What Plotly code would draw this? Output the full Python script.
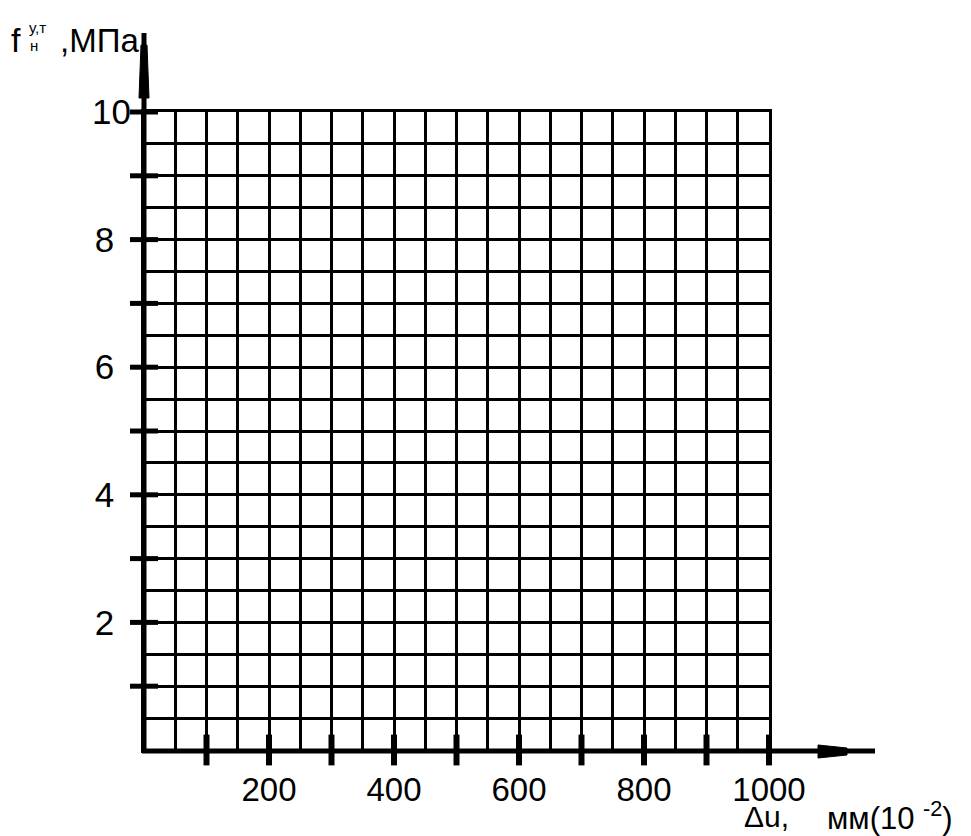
import plotly.graph_objects as go

# axis values
x_tick_labels = [200, 400, 600, 800, 1000]
y_tick_labels = [2, 4, 6, 8, 10]
x_major_ticks = [100, 200, 300, 400, 500, 600, 700, 800, 900, 1000]
y_major_ticks = [1, 2, 3, 4, 5, 6, 7, 8, 9, 10]
x_range = [0, 1000]
y_range = [0, 10]
x_grid_step = 50
y_grid_step = 0.5

OFF = 8  # page body margin
W, H = 971 - OFF, 836 - OFF
# plot area in page pixels
L, R, T, B = 144, 769, 112, 750

def px(x):
    return (x - L) / (R - L)

def py(y):
    return (B - y) / (B - T)

FONT = "Liberation Sans"

fig = go.Figure()

# thick tick marks crossing the axes
fig.add_trace(go.Scatter(
    x=x_major_ticks, y=[0] * len(x_major_ticks), mode="markers",
    marker=dict(symbol="line-ns", size=22, line=dict(width=6, color="black")),
    cliponaxis=False, hoverinfo="skip", showlegend=False))
fig.add_trace(go.Scatter(
    x=[0] * len(y_major_ticks), y=y_major_ticks, mode="markers",
    marker=dict(symbol="line-ew", size=20, line=dict(width=5, color="black")),
    cliponaxis=False, hoverinfo="skip", showlegend=False))

# y labels are left-aligned in the reference: pad single digits on the right
y_ticktext = [str(v) + ("" if len(str(v)) > 1 else "\u00a0\u2009") for v in y_tick_labels]

fig.update_xaxes(
    range=x_range, tickmode="array", tickvals=x_tick_labels,
    ticktext=[str(v) for v in x_tick_labels], ticks="",
    showgrid=True, gridcolor="black", gridwidth=3,
    minor=dict(tickmode="linear", tick0=0, dtick=x_grid_step, showgrid=True,
               gridcolor="black", gridwidth=3, ticks=""),
    showline=True, mirror=True, linecolor="black", linewidth=3,
    zeroline=False, ticklabelstandoff=8,
    tickfont=dict(family=FONT, size=33, color="black"))
fig.update_yaxes(
    range=y_range, tickmode="array", tickvals=y_tick_labels,
    ticktext=y_ticktext, ticks="",
    showgrid=True, gridcolor="black", gridwidth=3,
    minor=dict(tickmode="linear", tick0=0, dtick=y_grid_step, showgrid=True,
               gridcolor="black", gridwidth=3, ticks=""),
    showline=True, mirror=True, linecolor="black", linewidth=3,
    zeroline=False, ticklabelstandoff=3,
    tickfont=dict(family=FONT, size=35, color="black"))

shapes = []
# main axes with arrows
shapes.append(dict(type="line", xref="paper", yref="paper",
                   x0=px(142), x1=px(875), y0=py(751), y1=py(751),
                   line=dict(color="black", width=5)))
shapes.append(dict(type="line", xref="paper", yref="paper",
                   x0=px(144), x1=px(144), y0=py(752), y1=py(33),
                   line=dict(color="black", width=5)))
# x arrow head (feathered)
pts = [(818, 745), (847, 748), (847, 755), (818, 758)]
path = "M " + " L ".join(f"{px(a):.5f},{py(b):.5f}" for a, b in pts) + " Z"
shapes.append(dict(type="path", xref="paper", yref="paper", path=path,
                   fillcolor="black", line=dict(color="black", width=1)))
# y arrow head
pts = [(139, 98), (149, 98), (147, 45), (141, 45)]
path = "M " + " L ".join(f"{px(a):.5f},{py(b):.5f}" for a, b in pts) + " Z"
shapes.append(dict(type="path", xref="paper", yref="paper", path=path,
                   fillcolor="black", line=dict(color="black", width=1)))

def ann(text, x, y, size, xanchor="left"):
    return dict(text=text, x=px(x), y=py(y), xref="paper", yref="paper",
                xanchor=xanchor, yanchor="middle", showarrow=False,
                font=dict(family=FONT, size=size, color="black"))

annotations = [
    ann("f", 9, 40, 34),
    ann("у,т", 27, 27, 15),
    ann("н", 28, 45, 15),
    ann(",МПа", 58, 40, 33),
    ann("Δu,", 742, 816, 30),
    ann("мм(10 <sup>-2</sup>)", 825, 816, 31),
]

fig.update_layout(
    width=W, height=H,
    margin=dict(l=L - OFF, r=W - (R - OFF), t=T - OFF, b=H - (B - OFF), pad=0),
    plot_bgcolor="white", paper_bgcolor="white",
    shapes=shapes, annotations=annotations, showlegend=False)

fig.write_html("out.html")
